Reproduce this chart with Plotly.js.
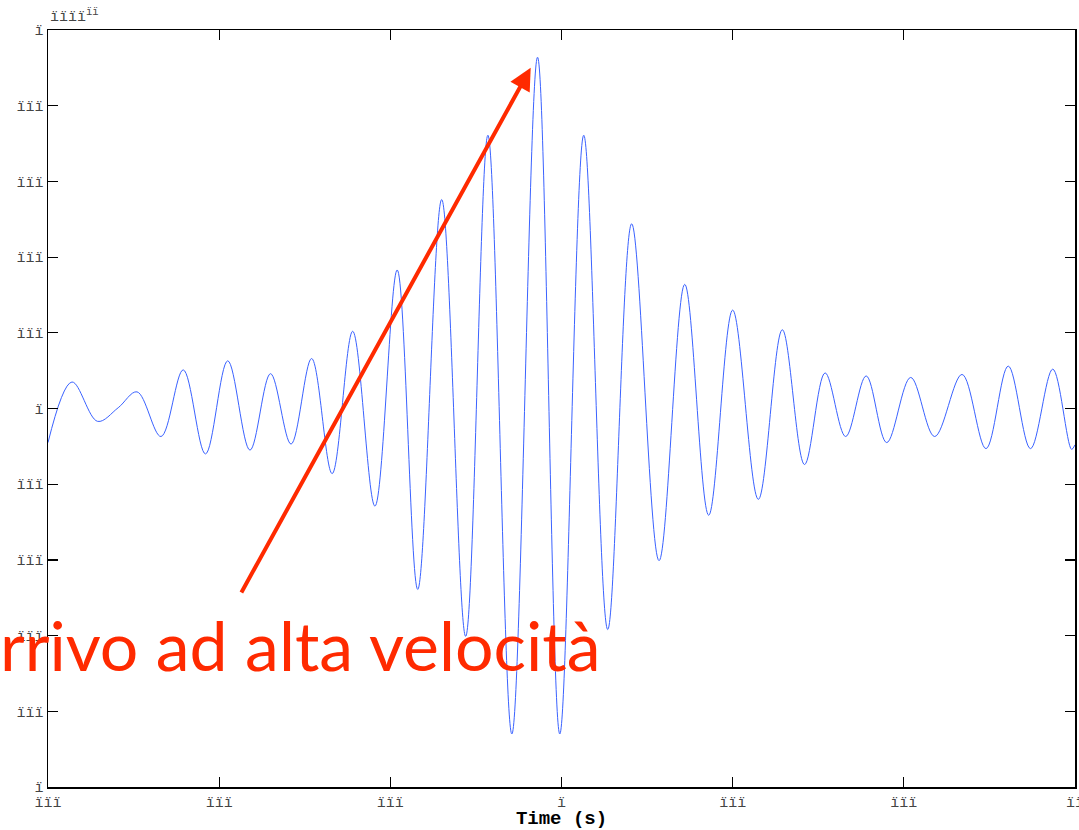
<!DOCTYPE html>
<html>
<head>
<meta charset="utf-8">
<script src="https://cdn.plot.ly/plotly-3.0.1.min.js"></script>
<style>html,body{margin:0;padding:0;background:#fff;}#chart{width:1079px;height:830px;}</style>
</head>
<body>
<div id="chart"></div>
<script>
// Extrema of the waveform (time, amplitude)
const timeS = [-3.00,-2.86,-2.71,-2.59,-2.48,-2.34,-2.21,-2.08,-1.95,-1.82,-1.70,-1.58,-1.46,-1.34,-1.22,-1.09,-0.96,-0.84,-0.70,-0.56,-0.43,-0.29,-0.14,-0.01,0.13,0.27,0.41,0.57,0.72,0.86,1.00,1.15,1.29,1.42,1.54,1.66,1.78,1.90,2.04,2.18,2.34,2.48,2.61,2.74,2.87,2.98,3.00];
const amplitude = [-0.45,0.35,-0.17,0.01,0.22,-0.37,0.51,-0.60,0.63,-0.55,0.46,-0.47,0.66,-0.86,1.02,-1.29,1.83,-2.39,2.76,-3.01,3.61,-4.30,4.64,-4.30,3.61,-2.92,2.44,-2.01,1.64,-1.41,1.30,-1.20,1.04,-0.74,0.47,-0.37,0.43,-0.45,0.41,-0.37,0.45,-0.53,0.56,-0.53,0.52,-0.54,-0.48];

// Tick positions and their (garbled) labels as they appear
const xTickVals = [-3,-2,-1,0,1,2,3];
const xTickText = ['ïïï','ïïï','ïïï','ï','ïïï','ïïï','ïï'];
const yTickVals = [-5,-4,-3,-2,-1,0,1,2,3,4,5];
const yTickText = ['ï','ïïï','ïïï','ïïï','ïïï','ï','ïïï','ïïï','ïïï','ïïï','ï'];

const annotationText = 'Arrivo ad alta velocità';
const arrowTail = [-1.875, -2.45];
const arrowHead = [-0.18, 4.50];

const trace = {
  x: timeS, y: amplitude, type: 'scatter', mode: 'lines',
  line: {color: '#3a62ff', width: 1, shape: 'spline', smoothing: 1},
  hoverinfo: 'skip'
};

const axisCommon = {
  showline: true, linecolor: '#000', linewidth: 1.5, mirror: 'ticks',
  ticks: 'inside', ticklen: 10, tickwidth: 1.2, tickcolor: '#000',
  showgrid: false, zeroline: false, ticklabeloverflow: 'allow',
  tickfont: {family: 'Liberation Mono, Courier New, monospace', size: 15, color: '#444'}
};

const layout = {
  width: 1079, height: 830,
  margin: {l: 48, r: 4, t: 30, b: 43},
  paper_bgcolor: '#fff', plot_bgcolor: '#fff',
  showlegend: false,
  xaxis: Object.assign({}, axisCommon, {
    range: [-3, 3], tickmode: 'array', tickvals: xTickVals, ticktext: xTickText,
    automargin: false,
    title: {text: 'Time (s)', standoff: 0,
      font: {family: 'Liberation Mono, Courier New, monospace', size: 19, color: '#000', weight: 'bold'}}
  }),
  yaxis: Object.assign({}, axisCommon, {
    range: [-5, 5], tickmode: 'array', tickvals: yTickVals, ticktext: yTickText,
    automargin: false
  }),
  annotations: [
    {xref: 'paper', yref: 'paper', x: 0, y: 1, xanchor: 'left', yanchor: 'bottom',
     yshift: 2, xshift: 0, showarrow: false,
     text: 'ïïïï<sup>ïï</sup>',
     font: {family: 'Liberation Mono, Courier New, monospace', size: 15, color: '#444'}},
    {xref: 'x', yref: 'y', axref: 'x', ayref: 'y',
     x: arrowHead[0], y: arrowHead[1], ax: arrowTail[0], ay: arrowTail[1],
     showarrow: true, arrowhead: 2, arrowsize: 1.1, arrowwidth: 4, arrowcolor: '#ff2a00',
     text: ''},
    {xref: 'paper', yref: 'paper', x: 0.5400, y: 0.1876, xanchor: 'right', yanchor: 'middle',
     showarrow: false, text: annotationText,
     font: {family: 'Lato, Open Sans, sans-serif', size: 68, color: '#ff2a00'}}
  ]
};

Plotly.newPlot('chart', [trace], layout, {displayModeBar: false, staticPlot: true});
</script>
</body>
</html>
